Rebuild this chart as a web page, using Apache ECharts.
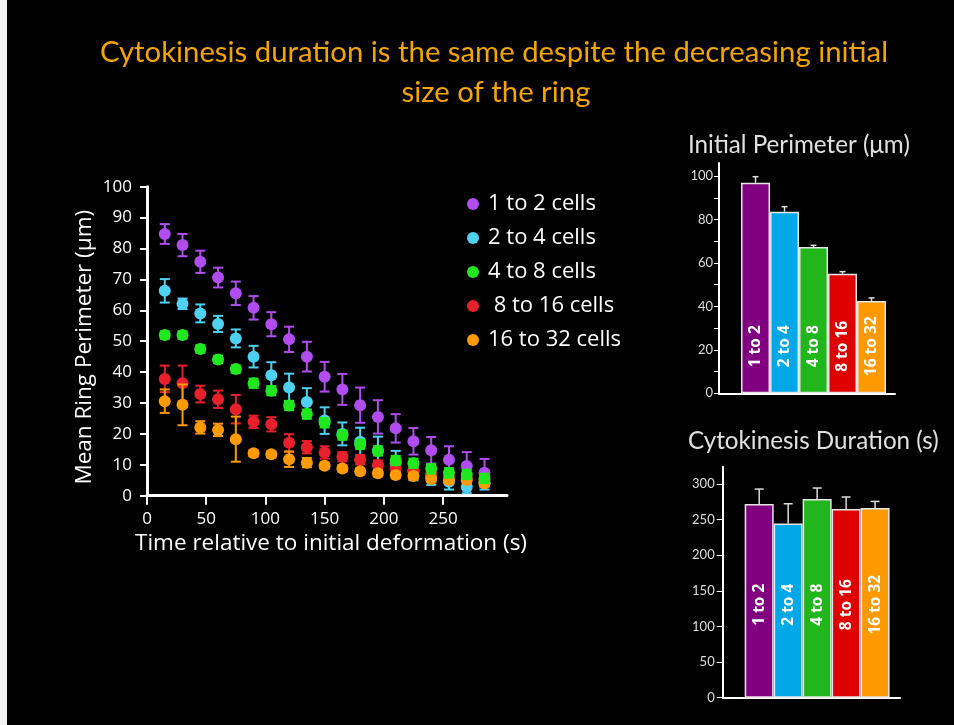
<!DOCTYPE html>
<html><head><meta charset="utf-8">
<script src="https://cdn.jsdelivr.net/npm/echarts@6/dist/echarts.min.js"></script>
<style>html,body{margin:0;padding:0;background:#000;}#c{width:954px;height:725px;}</style>
</head><body><div id="c"></div>
<script>
// ---- data ----
const times = [15,30,45,60,75,90,105,120,135,150,165,180,195,210,225,240,255,270,285];
const seriesNames = ['1 to 2 cells','2 to 4 cells','4 to 8 cells',' 8 to 16 cells','16 to 32 cells'];
const seriesColors = ['#b04cf0','#4fd2f2','#1fe81f','#e8202c','#ff9a00'];
const mean1to2 = [84.7,81.1,75.7,70.6,65.5,60.8,55.5,50.6,45.0,38.5,34.4,29.3,25.5,21.8,17.6,14.7,11.6,9.6,7.4];
const err1to2  = [3.2,3.6,3.6,3.2,3.8,3.8,3.9,4.1,4.8,4.8,5.0,5.7,5.4,4.6,4.3,4.3,4.4,4.5,4.5];
const mean2to4 = [66.3,62.1,59.0,55.6,50.9,45.0,39.0,35.0,30.3,24.3,20.0,17.5,14.6,10.5,8.0,6.5,4.5,2.8,4.0];
const err2to4  = [3.8,1.7,2.9,2.6,2.9,3.5,4.2,4.5,4.5,4.3,3.7,4.5,4.5,4.0,3.0,3.0,2.5,2.0,2.0];
const mean4to8 = [52.0,52.0,47.5,44.1,41.0,36.4,34.0,29.2,26.4,23.6,19.6,16.6,14.5,11.4,10.5,8.7,7.4,6.9,5.6];
const err4to8  = [1.2,1.2,1.2,1.2,1.2,1.5,1.5,1.5,1.5,1.5,1.5,1.5,1.5,1.5,1.5,1.5,1.5,1.5,1.5];
const mean8to16 = [37.8,36.4,32.9,31.2,28.0,23.9,23.1,17.1,15.7,14.0,12.6,11.6,9.9,8.9,8.1,7.0,6.4,5.7,5.1];
const err8to16  = [4.3,5.7,2.7,2.8,4.6,2.0,2.3,2.8,2.0,2.0,1.5,1.5,1.5,1.5,1.5,1.5,1.5,1.5,1.5];
const mean16to32 = [30.6,29.4,22.1,21.3,18.3,13.7,13.4,11.8,10.7,9.7,8.8,7.9,7.3,6.7,6.4,5.4,5.1,5.1,4.0];
const err16to32  = [3.8,6.6,2.0,2.0,7.3,1.0,1.0,2.5,1.5,1.0,1.0,1.0,1.0,1.0,1.0,1.0,1.0,1.0,1.0];

const xTicks = [0,50,100,150,200,250];
const yTicks = [0,10,20,30,40,50,60,70,80,90,100];

const barCats = ['1 to 2','2 to 4','4 to 8','8 to 16','16 to 32'];
const barColors = ['#800080','#00a8e8','#21b61b','#df0000','#ff9900'];
const initPerim = [96.9,83.6,67.3,55.0,42.5];
const initPerimErr = [2.8,2.3,0.8,1.0,1.4];
const duration = [271.6,244.4,278.6,264.6,266.0];
const durationErr = [21.0,27.6,15.5,16.9,9.3];
const perimLabelTicks = [0,20,40,60,80,100];
const perimMinorTicks = [0,10,20,30,40,50,60,70,80,90,100];
const durTicks = [0,50,100,150,200,250,300];

// ---- build ----
const means = [mean1to2, mean2to4, mean4to8, mean8to16, mean16to32];
const errs = [err1to2, err2to4, err4to8, err8to16, err16to32];
const zOrder = [2,3,6,4,5];

function errRender(color){
  return function(params, api){
    const x = api.value(0), m = api.value(1), e = api.value(2);
    const t = api.coord([x, m + e]), b = api.coord([x, m - e]);
    const hw = 5;
    const st = {stroke: color, lineWidth: 2};
    return {type:'group', children:[
      {type:'line', shape:{x1:t[0],y1:t[1],x2:b[0],y2:b[1]}, style:st},
      {type:'line', shape:{x1:t[0]-hw,y1:t[1],x2:t[0]+hw,y2:t[1]}, style:st},
      {type:'line', shape:{x1:b[0]-hw,y1:b[1],x2:b[0]+hw,y2:b[1]}, style:st}
    ]};
  };
}
function barErrRender(hw){
  return function(params, api){
    const x = api.value(0), m = api.value(1), e = api.value(2);
    const b = api.coord([x, m]), t = api.coord([x, m + e]);
    const st = {stroke:'#dddddd', lineWidth:1.5};
    return {type:'group', children:[
      {type:'line', shape:{x1:b[0],y1:b[1],x2:t[0],y2:t[1]}, style:st},
      {type:'line', shape:{x1:t[0]-hw,y1:t[1],x2:t[0]+hw,y2:t[1]}, style:st}
    ]};
  };
}
function barLabelRender(offset){
  return function(params, api){
    const p = api.coord([api.value(0), 0]);
    return {type:'text', x:p[0], y:p[1]-offset, rotation:Math.PI/2, z2:10,
      style:{text:barCats[params.dataIndex], fill:'#ffffff', font:'bold 15.5px "Open Sans"', align:'center', verticalAlign:'middle'}};
  };
}

const series = [];
seriesNames.forEach((name, k) => {
  series.push({type:'custom', name:name, xAxisIndex:0, yAxisIndex:0, z:zOrder[k],
    itemStyle:{color:seriesColors[k]},
    renderItem: errRender(seriesColors[k]),
    data: times.map((t,i)=>[t, means[k][i], errs[k][i]])});
  series.push({type:'scatter', name:name, xAxisIndex:0, yAxisIndex:0, z:zOrder[k],
    symbol:'circle', symbolSize:12, itemStyle:{color:seriesColors[k], opacity:1},
    data: times.map((t,i)=>[t, means[k][i]])});
});

series.push({type:'bar', xAxisIndex:1, yAxisIndex:1, barWidth:29,
  itemStyle:{borderColor:'#e6e6e6', borderWidth:1.5},
  data: initPerim.map((v,i)=>({value:[i+1, v], itemStyle:{color:barColors[i]}}))});
series.push({type:'custom', xAxisIndex:1, yAxisIndex:1, renderItem: barErrRender(3),
  data: initPerim.map((v,i)=>[i+1, v, initPerimErr[i]])});
series.push({type:'custom', xAxisIndex:1, yAxisIndex:1, renderItem: barLabelRender(47), z:5,
  data: barCats.map((c,i)=>[i+1, 0])});

series.push({type:'bar', xAxisIndex:2, yAxisIndex:2, barWidth:29,
  itemStyle:{borderColor:'#e6e6e6', borderWidth:1.5},
  data: duration.map((v,i)=>({value:[i+1, v], itemStyle:{color:barColors[i]}}))});
series.push({type:'custom', xAxisIndex:2, yAxisIndex:2, renderItem: barErrRender(4.5),
  data: duration.map((v,i)=>[i+1, v, durationErr[i]])});
series.push({type:'custom', xAxisIndex:2, yAxisIndex:2, renderItem: barLabelRender(93), z:5,
  data: barCats.map((c,i)=>[i+1, 0])});

const mainFont = 'Open Sans';
const titleFont = 'Lato';

const option = {
  backgroundColor:'#000000',
  animation:false,
  textStyle:{fontFamily:mainFont},
  grid:[
    {left:147, top:186.7, width:360, height:309},
    {left:719, top:163, width:176, height:230.3},
    {left:722.7, top:466.7, width:177.3, height:231}
  ],
  xAxis:[
    {gridIndex:0, type:'value', min:0, max:304, interval:50,
      name:'Time relative to initial deformation (s)', nameLocation:'middle', nameGap:36,
      nameTextStyle:{color:'#ffffff', fontSize:22.5, fontFamily:mainFont, padding:[0,0,0,8]},
      axisLine:{onZero:false, lineStyle:{color:'#ffffff', width:3}},
      axisTick:{customValues:xTicks, length:9, lineStyle:{color:'#ffffff', width:2}},
      axisLabel:{customValues:xTicks, color:'#ffffff', fontSize:17, margin:15, fontFamily:mainFont},
      splitLine:{show:false}},
    {gridIndex:1, type:'value', min:-0.26, max:5.81,
      axisLine:{onZero:false, lineStyle:{color:'#ffffff', width:2}},
      axisTick:{show:false}, axisLabel:{show:false}, splitLine:{show:false}},
    {gridIndex:2, type:'value', min:-0.26, max:5.86,
      axisLine:{onZero:false, lineStyle:{color:'#ffffff', width:2}},
      axisTick:{show:false}, axisLabel:{show:false}, splitLine:{show:false}}
  ],
  yAxis:[
    {gridIndex:0, type:'value', min:0, max:100, interval:10,
      name:'Mean Ring Perimeter (μm)', nameLocation:'middle', nameGap:51,
      nameTextStyle:{color:'#ffffff', fontSize:22.5, fontFamily:mainFont, padding:[0,12,0,0]},
      axisLine:{onZero:false, lineStyle:{color:'#ffffff', width:3}},
      axisTick:{customValues:yTicks, length:7, lineStyle:{color:'#ffffff', width:2}},
      axisLabel:{customValues:yTicks, color:'#ffffff', fontSize:17, margin:15, fontFamily:mainFont},
      splitLine:{show:false}},
    {gridIndex:1, type:'value', min:0, max:106, interval:10,
      axisLine:{onZero:false, lineStyle:{color:'#ffffff', width:2}},
      axisTick:{customValues:perimMinorTicks, length:5, lineStyle:{color:'#ffffff', width:1}},
      axisLabel:{customValues:perimLabelTicks, color:'#dddddd', fontSize:13, margin:6, fontFamily:titleFont},
      splitLine:{show:false}},
    {gridIndex:2, type:'value', min:0, max:324, interval:50,
      axisLine:{onZero:false, lineStyle:{color:'#ffffff', width:2}},
      axisTick:{customValues:durTicks, length:6, lineStyle:{color:'#ffffff', width:1}},
      axisLabel:{customValues:durTicks, color:'#dddddd', fontSize:13, margin:8, fontFamily:titleFont},
      splitLine:{show:false}}
  ],
  legend:{
    orient:'vertical', left:462, top:188, itemWidth:12, itemHeight:12, itemGap:12,
    data: seriesNames.map(n=>({name:n, icon:'circle'})),
    textStyle:{color:'#ffffff', fontSize:22, lineHeight:22, fontFamily:mainFont, padding:[0,0,0,4]},
    selectedMode:false
  },
  graphic:[
    {type:'rect', left:0, top:0, shape:{width:7, height:725}, style:{fill:'#f2f2f2'}},
    {type:'text', x:494, y:53, style:{text:'Cytokinesis duration is the same despite the decreasing initial', fill:'#f5a400', font:'29.3px Lato', align:'center', verticalAlign:'middle'}},
    {type:'text', x:496, y:93, style:{text:'size of the ring', fill:'#f5a400', font:'29.3px Lato', align:'center', verticalAlign:'middle'}},
    {type:'text', x:688, y:145, style:{text:'Initial Perimeter (μm)', fill:'#e0e0e0', font:'24.2px Lato', verticalAlign:'middle'}},
    {type:'text', x:688, y:441, style:{text:'Cytokinesis Duration (s)', fill:'#e0e0e0', font:'24.2px Lato', verticalAlign:'middle'}}
  ],
  series: series
};
const chart = echarts.init(document.getElementById('c'));
chart.setOption(option);
</script></body></html>
